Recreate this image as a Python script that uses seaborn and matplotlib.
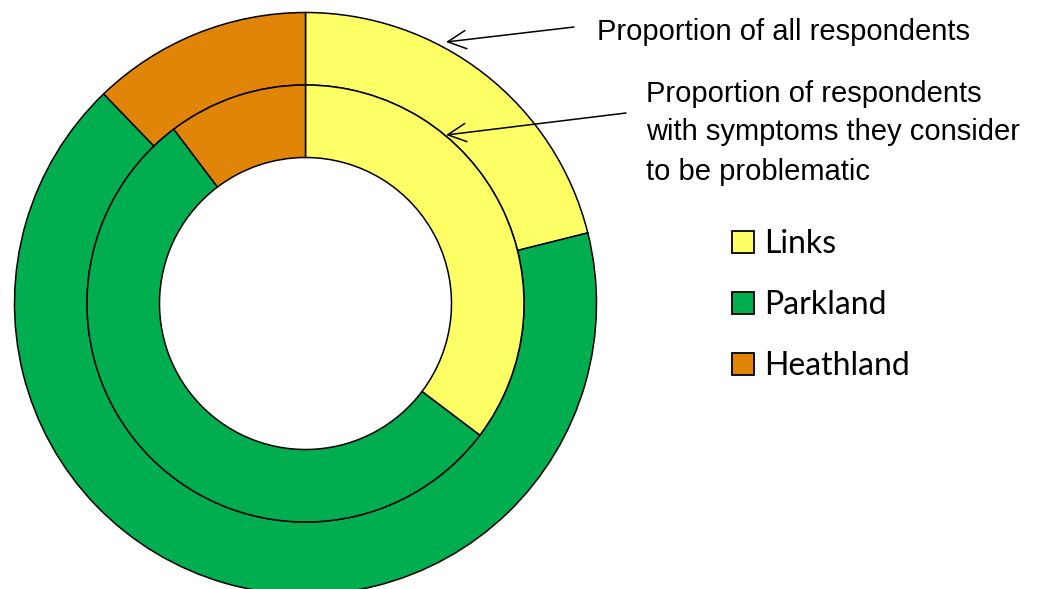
import matplotlib
matplotlib.use("Agg")
import matplotlib.pyplot as plt
import matplotlib.patches as mpatches
import seaborn as sns

# ---- data ----
categories = ["Links", "Parkland", "Heathland"]
all_respondents = [21.1, 66.7, 12.2]          # outer ring (%)
problematic_respondents = [35.3, 54.4, 10.3]  # inner ring (%)
colors = ["#FFFF66", "#00AE50", "#E08508"]
note_outer = "Proportion of all respondents"
note_inner_lines = ["Proportion of respondents",
                    "with symptoms they consider",
                    "to be problematic"]

sns.set_theme(style="white")
plt.rcParams["font.family"] = ["Liberation Sans", "DejaVu Sans"]
palette = sns.color_palette(colors)

W, H = 1037, 589
fig = plt.figure(figsize=(W / 100, H / 100), dpi=100)
ax = fig.add_axes([0, 0, 1, 1])

cx, cy = 305.5, H - 303.5
r_outer, r_mid, r_hole = 291, 218.5, 146

edge = dict(edgecolor="black", linewidth=1.1)
ax.pie(all_respondents, colors=palette, radius=r_outer, center=(cx, cy),
       startangle=90, counterclock=False,
       wedgeprops=dict(width=r_outer - r_mid, **edge))
ax.pie(problematic_respondents, colors=palette, radius=r_mid, center=(cx, cy),
       startangle=90, counterclock=False,
       wedgeprops=dict(width=r_mid - r_hole, **edge))

ax.set_xlim(0, W)
ax.set_ylim(0, H)
ax.set_aspect("equal")
ax.axis("off")

# annotations
ax.text(597, H - 39.5, note_outer, fontsize=21, color="black",
        ha="left", va="baseline")
line_pitch = 39
for i, line in enumerate(note_inner_lines):
    ax.text(646, H - 101.5 - i * line_pitch, line, fontsize=21,
            color="black", ha="left", va="baseline")

arrow = dict(arrowstyle="->, head_length=0.4, head_width=0.2",
             mutation_scale=33, lw=1.1, color="black",
             shrinkA=0, shrinkB=0)
ax.annotate("", xy=(446, H - 42), xytext=(574, H - 27), arrowprops=arrow)
ax.annotate("", xy=(446, H - 135), xytext=(626, H - 113), arrowprops=arrow)

# legend
handles = [mpatches.Patch(facecolor=c, edgecolor="black", linewidth=1.3,
                          label=l) for c, l in zip(palette, categories)]
leg = ax.legend(handles=handles, loc="center left",
                bbox_to_anchor=(732, H - 305), bbox_transform=ax.transData,
                frameon=False, borderpad=0, borderaxespad=0,
                handlelength=0.69, handleheight=0.69, handletextpad=0.33,
                labelspacing=0.97,
                prop=dict(family=["Lato", "DejaVu Sans"], size=23))
for t in leg.get_texts():
    t.set_color("black")

fig.savefig("out.png", dpi=100)
